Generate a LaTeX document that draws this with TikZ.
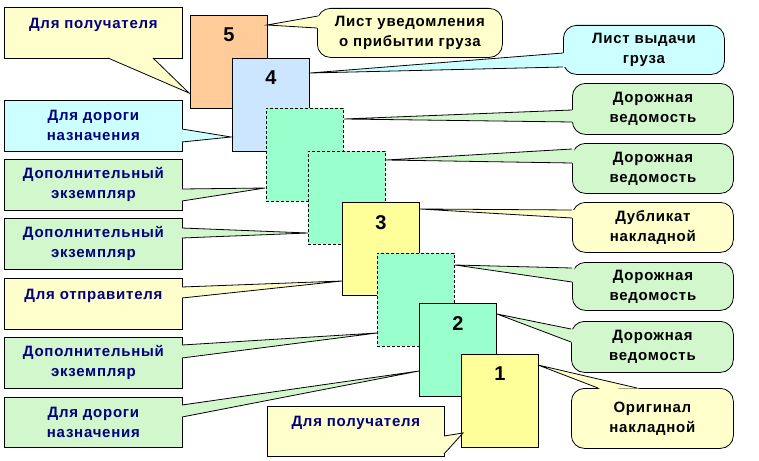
\documentclass[tikz,border=0pt]{standalone}
\usepackage{fontspec}
\setmainfont{Liberation Sans}[LetterSpace=5]
\usetikzlibrary{calc}
\definecolor{peach}{HTML}{FFCC99}
\definecolor{sblue}{HTML}{CCE6FF}
\definecolor{mint}{HTML}{99FFCC}
\definecolor{syellow}{HTML}{FFFF99}
\definecolor{cyellow}{HTML}{FFFFCC}
\definecolor{cblue}{HTML}{CCFFFF}
\definecolor{cgreen}{HTML}{D2F7CC}
\definecolor{navy}{HTML}{000080}
\tikzset{
  sheet/.style={draw=black, line width=0.8pt, anchor=north west, minimum width=77pt, minimum height=93pt, inner sep=0pt},
  dsheet/.style={sheet, fill=mint, dash pattern=on 3pt off 2pt},
  num/.style={font=\fontsize{20}{24}\selectfont\bfseries, anchor=north, inner sep=0pt, yshift=-13pt},
  lbox/.style={draw=black, line width=0.8pt, anchor=north west, minimum width=178pt, minimum height=51pt, inner sep=0pt, align=center, text=navy, font=\fontsize{15}{20}\selectfont\bfseries},
  rbox/.style={lbox, rounded corners=13pt, text=black, minimum width=161pt},
  conn/.style={draw=black, line width=0.8pt, line join=miter}
}
\newcommand\callptr[4]{%
  \fill[#1] (#2) -- ($(#3)!-2.5pt!(#2)$) -- ($(#4)!-2.5pt!(#2)$) -- cycle;
  \draw[conn] (#3) -- (#2) -- (#4);}
\begin{document}
\begin{tikzpicture}[x=1pt,y=-1pt]
\useasboundingbox (0,0) rectangle (759,460);
% sheets
\node[sheet, fill=peach] (s5) at (190,15) {};
\node[num] (n5) at (s5.north) {5};
\node[sheet, fill=sblue] (s4) at (232,58) {};
\node[num] (n4) at (s4.north) {4};
\node[dsheet] (dA) at (266,108) {};
\node[dsheet] (dB) at (308,151) {};
\node[sheet, fill=syellow] (s3) at (342,202) {};
\node[num] (n3) at (s3.north) {3};
\node[dsheet] (dC) at (377,253) {};
\node[sheet, fill=mint] (s2) at (419,303) {};
\node[num] (n2) at (s2.north) {2};
\node[sheet, fill=syellow] (s1) at (461,354) {};
\node[num] (n1) at (s1.north) {1};
% left callouts
\node[lbox, fill=cyellow] (L1) at (4,7) {Для получателя\\\mbox{}};
\node[lbox, fill=cblue] (L2) at (4,100) {Для дороги\\назначения};
\node[lbox, fill=cgreen] (L3) at (4,159) {Дополнительный\\экземпляр};
\node[lbox, fill=cgreen] (L4) at (4,218) {Дополнительный\\экземпляр};
\node[lbox, fill=cyellow] (L5) at (4,278) {Для отправителя\\\mbox{}};
\node[lbox, fill=cgreen] (L6) at (4,337) {Дополнительный\\экземпляр};
\node[lbox, fill=cgreen, minimum height=50pt] (L7) at (4,397) {Для дороги\\назначения};
\node[lbox, fill=cyellow, minimum width=177pt, minimum height=50pt] (L8) at (267,406) {Для получателя\\\mbox{}};
% right callouts
\node[rbox, fill=cyellow, minimum width=185pt, minimum height=49pt] (R1) at (317,8) {Лист уведомления\\о прибытии груза};
\node[rbox, fill=cblue, minimum height=49pt] (R2) at (563,25) {Лист выдачи\\груза};
\node[rbox, fill=cgreen] (R3) at (572,83) {Дорожная\\ведомость};
\node[rbox, fill=cgreen, minimum height=50pt] (R4) at (572,143) {Дорожная\\ведомость};
\node[rbox, fill=cyellow, minimum height=50pt] (R5) at (572,202) {Дубликат\\накладной};
\node[rbox, fill=cgreen, minimum height=48pt] (R6) at (572,262) {Дорожная\\ведомость};
\node[rbox, fill=cgreen, minimum width=162pt] (R7) at (571,321) {Дорожная\\ведомость};
\node[rbox, fill=cyellow, minimum width=162pt, minimum height=60pt] (R8) at (571,388) {Оригинал\\накладной};
% pointer coordinates
\coordinate (tL1) at (189,93);  \coordinate (aL1) at (108,58);  \coordinate (bL1) at (153,58);
\coordinate (tL2) at (231,137); \coordinate (aL2) at (182,129); \coordinate (bL2) at (182,142);
\coordinate (tL3) at (265,188); \coordinate (aL3) at (182,189); \coordinate (bL3) at (182,201);
\coordinate (tL4) at (308,233); \coordinate (aL4) at (182,228); \coordinate (bL4) at (182,238);
\coordinate (tL5) at (342,281); \coordinate (aL5) at (182,287); \coordinate (bL5) at (182,298);
\coordinate (tL6) at (377,333); \coordinate (aL6) at (182,345); \coordinate (bL6) at (182,358);
\coordinate (tL7) at (419,371); \coordinate (aL7) at (182,405); \coordinate (bL7) at (182,417);
\coordinate (tL8) at (463,433); \coordinate (aL8) at (444,436); \coordinate (bL8) at (444,454);
\coordinate (tR1) at (267,25);  \coordinate (aR1) at (318,16);  \coordinate (bR1) at (317,28);
\coordinate (tR2) at (310,73);  \coordinate (aR2) at (563,53);  \coordinate (bR2) at (563,67);
\coordinate (tR3) at (344,119); \coordinate (aR3) at (572,110); \coordinate (bR3) at (572,122);
\coordinate (tR4) at (386,160); \coordinate (aR4) at (572,149); \coordinate (bR4) at (572,163);
\coordinate (tR5) at (420,209); \coordinate (aR5) at (572,210); \coordinate (bR5) at (572,218);
\coordinate (tR6) at (455,265); \coordinate (aR6) at (572,268); \coordinate (bR6) at (572,282);
\coordinate (tR7) at (497,314); \coordinate (aR7) at (571,329); \coordinate (bR7) at (571,342);
\coordinate (tR8) at (538,365); \coordinate (aR8) at (598,388); \coordinate (bR8) at (637,388);
\callptr{cyellow}{tL1}{aL1}{bL1}
\callptr{cblue}{tL2}{aL2}{bL2}
\callptr{cgreen}{tL3}{aL3}{bL3}
\callptr{cgreen}{tL4}{aL4}{bL4}
\callptr{cyellow}{tL5}{aL5}{bL5}
\callptr{cgreen}{tL6}{aL6}{bL6}
\callptr{cgreen}{tL7}{aL7}{bL7}
\callptr{cyellow}{tL8}{aL8}{bL8}
\callptr{cyellow}{tR1}{aR1}{bR1}
\callptr{cblue}{tR2}{aR2}{bR2}
\callptr{cgreen}{tR3}{aR3}{bR3}
\callptr{cgreen}{tR4}{aR4}{bR4}
\callptr{cyellow}{tR5}{aR5}{bR5}
\callptr{cgreen}{tR6}{aR6}{bR6}
\callptr{cgreen}{tR7}{aR7}{bR7}
\callptr{cyellow}{tR8}{aR8}{bR8}
\end{tikzpicture}
\end{document}
